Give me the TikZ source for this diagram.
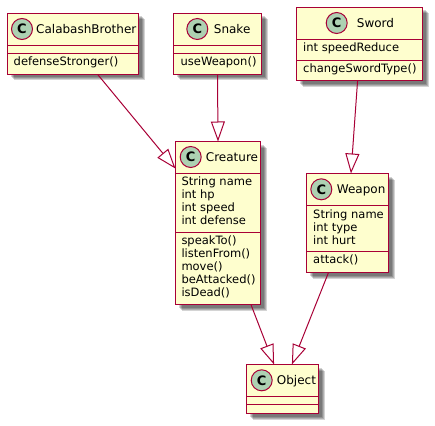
\documentclass[tikz,border=0pt]{standalone}
\usepackage{fontspec}
\setmainfont{DejaVu Sans}
\usetikzlibrary{arrows.meta,shadows}
\definecolor{umlline}{HTML}{A80036}
\definecolor{umlfill}{HTML}{FEFECE}
\definecolor{umlspot}{HTML}{ADD1B2}
\tikzset{
  softshadow/.style={general shadow={shadow xshift=#1,shadow yshift=-#1,fill=black,opacity=0.17}},
  classbox/.style={draw=umlline,line width=1.5pt,fill=umlfill,inner sep=0pt,outer sep=0pt,
    softshadow=6pt,softshadow=5pt,softshadow=4pt,softshadow=3pt},
  spot/.style={circle,draw=umlline,line width=1pt,fill=umlspot,minimum size=21pt,inner sep=0pt,
    font=\fontsize{13}{13}\selectfont\bfseries},
  title/.style={anchor=base west,inner sep=0pt,font=\fontsize{12}{14}\selectfont},
  members/.style={anchor=north west,inner sep=0pt,align=left,font=\fontsize{11.5}{12.9}\selectfont},
  sep/.style={draw=umlline,line width=1.5pt},
  extends/.style={draw=umlline,line width=1pt,-{Triangle[open,length=20pt,width=14pt]}}
}
\begin{document}
\begin{tikzpicture}[x=1pt,y=-1pt]
\useasboundingbox (0,0) rectangle (435,425);

% CalabashBrother
\node[classbox,minimum width=131pt,minimum height=61pt] (calabash) at (73,44) {};
\node[spot] (calabashspot) at (22,29) {C};
\node[title] (calabashtitle) at (36,33.5) {CalabashBrother};
\draw[sep] (calabash.west |- 0,45.5) -- (calabash.east |- 0,45.5);
\draw[sep] (calabash.west |- 0,53.5) -- (calabash.east |- 0,53.5);
\node[members] (calabashops) at (13.5,57) {defenseStronger()};

% Snake
\node[classbox,minimum width=88pt,minimum height=61pt] (snake) at (217.5,44) {};
\node[spot] (snakespot) at (197.3,29) {C};
\node[title] (snaketitle) at (213.7,33.5) {Snake};
\draw[sep] (snake.west |- 0,45.5) -- (snake.east |- 0,45.5);
\draw[sep] (snake.west |- 0,53.5) -- (snake.east |- 0,53.5);
\node[members] (snakeops) at (180.5,57) {useWeapon()};

% Sword
\node[classbox,minimum width=126pt,minimum height=73pt] (sword) at (359.5,44) {};
\node[spot] (swordspot) at (336.7,23) {C};
\node[title] (swordtitle) at (356.7,27.5) {Sword};
\draw[sep] (sword.west |- 0,39.5) -- (sword.east |- 0,39.5);
\draw[sep] (sword.west |- 0,60.5) -- (sword.east |- 0,60.5);
\node[members] (swordattrs) at (303,43) {int speedReduce};
\node[members] (swordops) at (303,64) {changeSwordType()};

% Creature
\node[classbox,minimum width=85pt,minimum height=163pt] (creature) at (218,223) {};
\node[spot] (creaturespot) at (190.7,157) {C};
\node[title] (creaturetitle) at (205.7,161.5) {Creature};
\draw[sep] (creature.west |- 0,173.5) -- (creature.east |- 0,173.5);
\draw[sep] (creature.west |- 0,232.5) -- (creature.east |- 0,232.5);
\node[members] (creatureattrs) at (181.3,177) {String name\\int hp\\int speed\\int defense};
\node[members] (creatureops) at (181.3,236) {speakTo()\\listenFrom()\\move()\\beAttacked()\\isDead()};

% Weapon
\node[classbox,minimum width=82pt,minimum height=99pt] (weapon) at (347.5,223) {};
\node[spot] (weaponspot) at (321.3,189.3) {C};
\node[title] (weapontitle) at (336.7,193.8) {Weapon};
\draw[sep] (weapon.west |- 0,205.5) -- (weapon.east |- 0,205.5);
\draw[sep] (weapon.west |- 0,251.5) -- (weapon.east |- 0,251.5);
\node[members] (weaponattrs) at (313,209.5) {String name\\int type\\int hurt};
\node[members] (weaponops) at (313,255) {attack()};

% Object
\node[classbox,minimum width=72pt,minimum height=49pt] (object) at (282.5,389) {};
\node[spot] (objectspot) at (261.7,380.3) {C};
\node[title] (objecttitle) at (276.7,384.8) {Object};
\draw[sep] (object.west |- 0,396.5) -- (object.east |- 0,396.5);
\draw[sep] (object.west |- 0,404.5) -- (object.east |- 0,404.5);

% Inheritance
\draw[extends] (calabash.-51.9) -- (creature.128);
\draw[extends] (snake.south) -- (creature.north);
\draw[extends] (sword.-93.5) -- (weapon.86.8);
\draw[extends] (creature.-68.3) -- (object.109.5);
\draw[extends] (weapon.-111.5) -- (object.69.2);
\end{tikzpicture}
\end{document}
